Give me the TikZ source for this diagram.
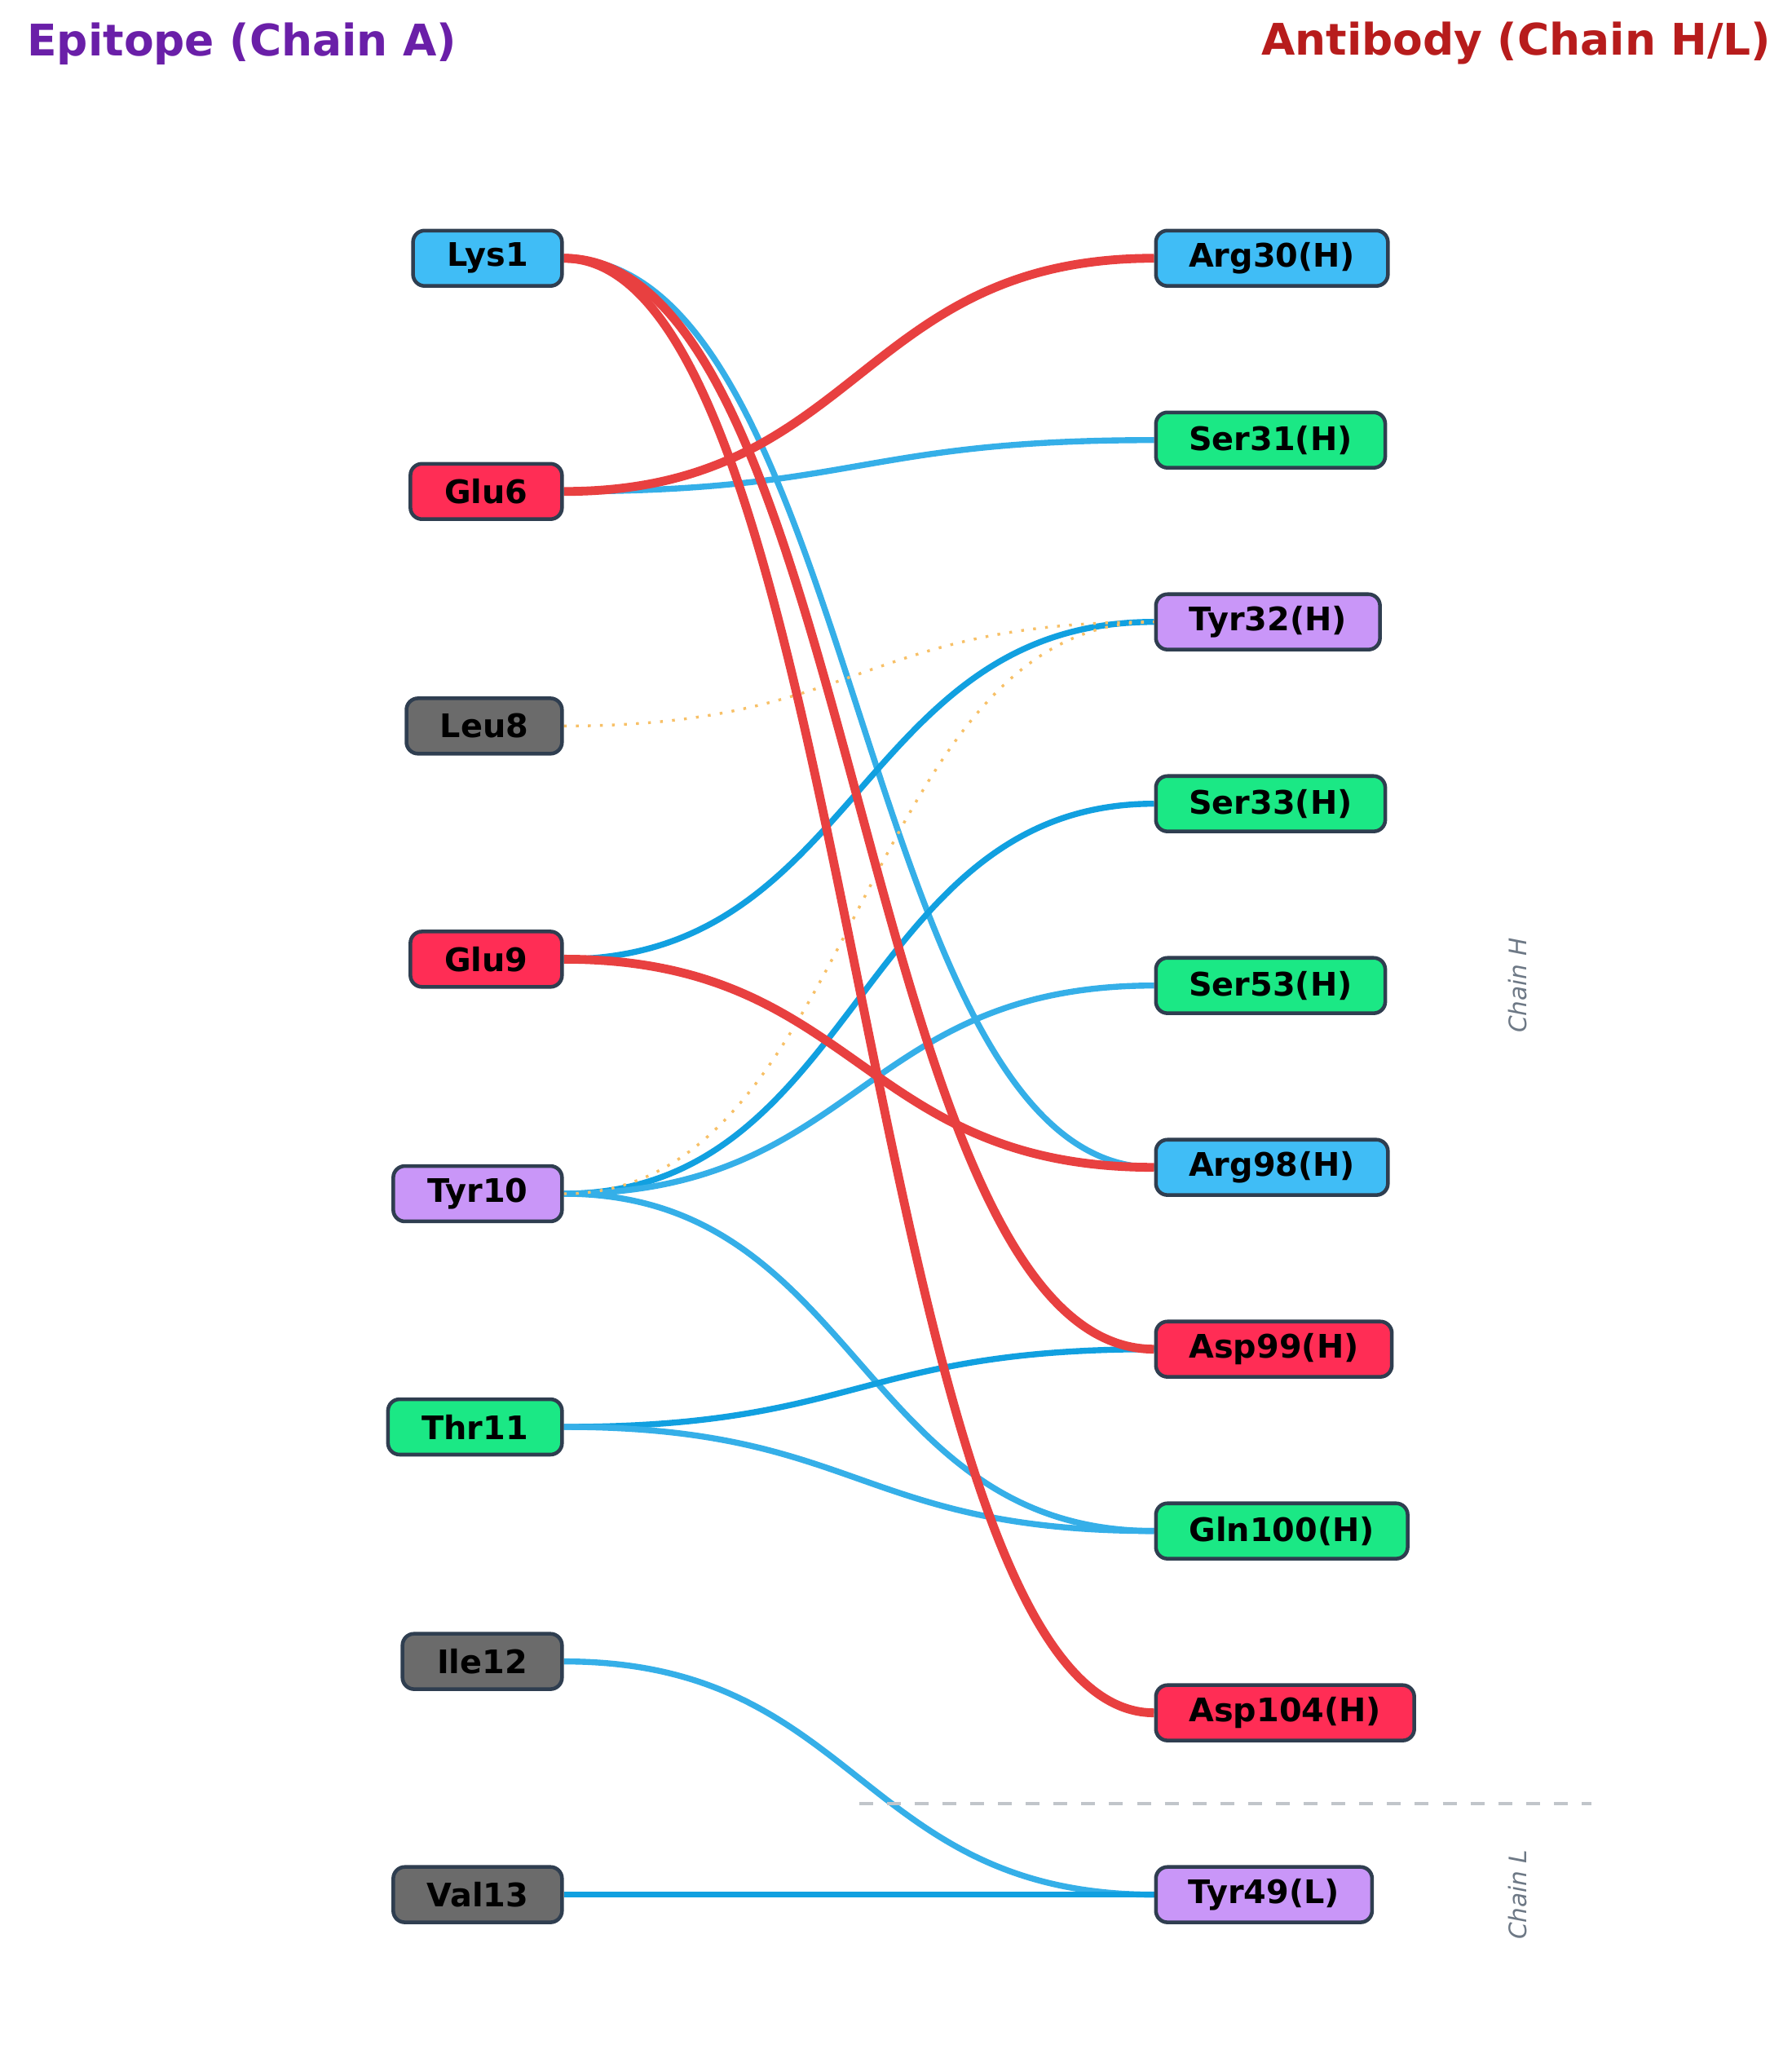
\documentclass[tikz,border=0pt]{standalone}
\usepackage{fontspec}
\setmainfont{DejaVu Sans}
\usetikzlibrary{backgrounds}
\definecolor{cb}{HTML}{40BDF6}
\definecolor{cr}{HTML}{FF2D55}
\definecolor{cp}{HTML}{C996F8}
\definecolor{cg}{HTML}{1BE885}
\definecolor{cy}{HTML}{6B6B6B}
\definecolor{bd}{HTML}{2F3E50}
\definecolor{er}{HTML}{E84040}
\definecolor{eb}{HTML}{35AFE8}
\definecolor{ed}{HTML}{11A0E0}
\definecolor{eo}{HTML}{F5B041}
\begin{document}
\begin{tikzpicture}[x=0.01cm,y=-0.01cm,
 res/.style={draw=bd,line width=0.8pt,rounded corners=2.5pt,minimum height=0.42cm,inner sep=0pt,font=\fontsize{7}{8}\selectfont\bfseries},
 L/.style={res,anchor=east},
 R/.style={res,anchor=west},
 red/.style={draw=er,line width=1.9pt},
 blu/.style={draw=eb,line width=1.3pt},
 dbl/.style={draw=ed,line width=1.3pt},
 dot/.style={draw=eo!80,line width=0.6pt,dotted},
 ttl/.style={font=\fontsize{9.4}{11}\selectfont\bfseries,inner sep=0pt}]
\useasboundingbox (0,0) rectangle (1360,1562);
\node[ttl,anchor=west] (t1) at (20,33) {\color[HTML]{6A1FA8}Epitope (Chain A)};
\node[ttl,anchor=east] (t2) at (1345,33) {\color[HTML]{B71C1C}Antibody (Chain H/L)};
% left
\node[L,fill=cb,minimum width=1.13cm] (lys1) at (428,196) {Lys1};
\node[L,fill=cr,minimum width=1.15cm] (glu6) at (428,373) {Glu6};
\node[L,fill=cy,minimum width=1.18cm] (leu8) at (428,551) {Leu8};
\node[L,fill=cr,minimum width=1.15cm] (glu9) at (428,728) {Glu9};
\node[L,fill=cp,minimum width=1.28cm] (tyr10) at (428,906) {Tyr10};
\node[L,fill=cg,minimum width=1.32cm] (thr11) at (428,1083) {Thr11};
\node[L,fill=cy,minimum width=1.21cm] (ile12) at (428,1261) {Ile12};
\node[L,fill=cy,minimum width=1.28cm] (val13) at (428,1438) {Val13};
% right
\node[R,fill=cb,minimum width=1.76cm] (arg30) at (876,196) {Arg30(H)};
\node[R,fill=cg,minimum width=1.74cm] (ser31) at (876,334) {Ser31(H)};
\node[R,fill=cp,minimum width=1.70cm] (tyr32) at (876,472) {Tyr32(H)};
\node[R,fill=cg,minimum width=1.74cm] (ser33) at (876,610) {Ser33(H)};
\node[R,fill=cg,minimum width=1.74cm] (ser53) at (876,748) {Ser53(H)};
\node[R,fill=cb,minimum width=1.76cm] (arg98) at (876,886) {Arg98(H)};
\node[R,fill=cr,minimum width=1.79cm] (asp99) at (876,1024) {Asp99(H)};
\node[R,fill=cg,minimum width=1.91cm] (gln100) at (876,1162) {Gln100(H)};
\node[R,fill=cr,minimum width=1.96cm] (asp104) at (876,1300) {Asp104(H)};
\node[R,fill=cp,minimum width=1.64cm] (tyr49) at (876,1438) {Tyr49(L)};
\coordinate (d1) at (652,1369);
\coordinate (d2) at (1208,1369);
\draw[bd!30,dashed,line width=0.6pt] (d1) -- (d2);
\node[rotate=90,font=\fontsize{5.2}{6}\selectfont\itshape,text=bd!70] (chh) at (1152,748) {Chain H};
\node[rotate=90,font=\fontsize{5.2}{6}\selectfont\itshape,text=bd!70] (chl) at (1152,1438) {Chain L};
\begin{scope}[on background layer]
\def\E#1#2#3{\draw[#3] (#1.east) .. controls +(224,0) and +(-224,0) .. (#2.west);}
\E{lys1}{arg98}{blu}
\E{glu6}{ser31}{blu}
\E{glu9}{tyr32}{dbl}
\E{tyr10}{ser33}{dbl}
\E{tyr10}{ser53}{blu}
\E{tyr10}{gln100}{blu}
\E{thr11}{asp99}{dbl}
\E{thr11}{gln100}{blu}
\E{ile12}{tyr49}{blu}
\E{val13}{tyr49}{dbl}
\E{leu8}{tyr32}{dot}
\E{tyr10}{tyr32}{dot}
\E{lys1}{asp99}{red}
\E{lys1}{asp104}{red}
\E{glu6}{arg30}{red}
\E{glu9}{arg98}{red}
\end{scope}
\end{tikzpicture}
\end{document}
